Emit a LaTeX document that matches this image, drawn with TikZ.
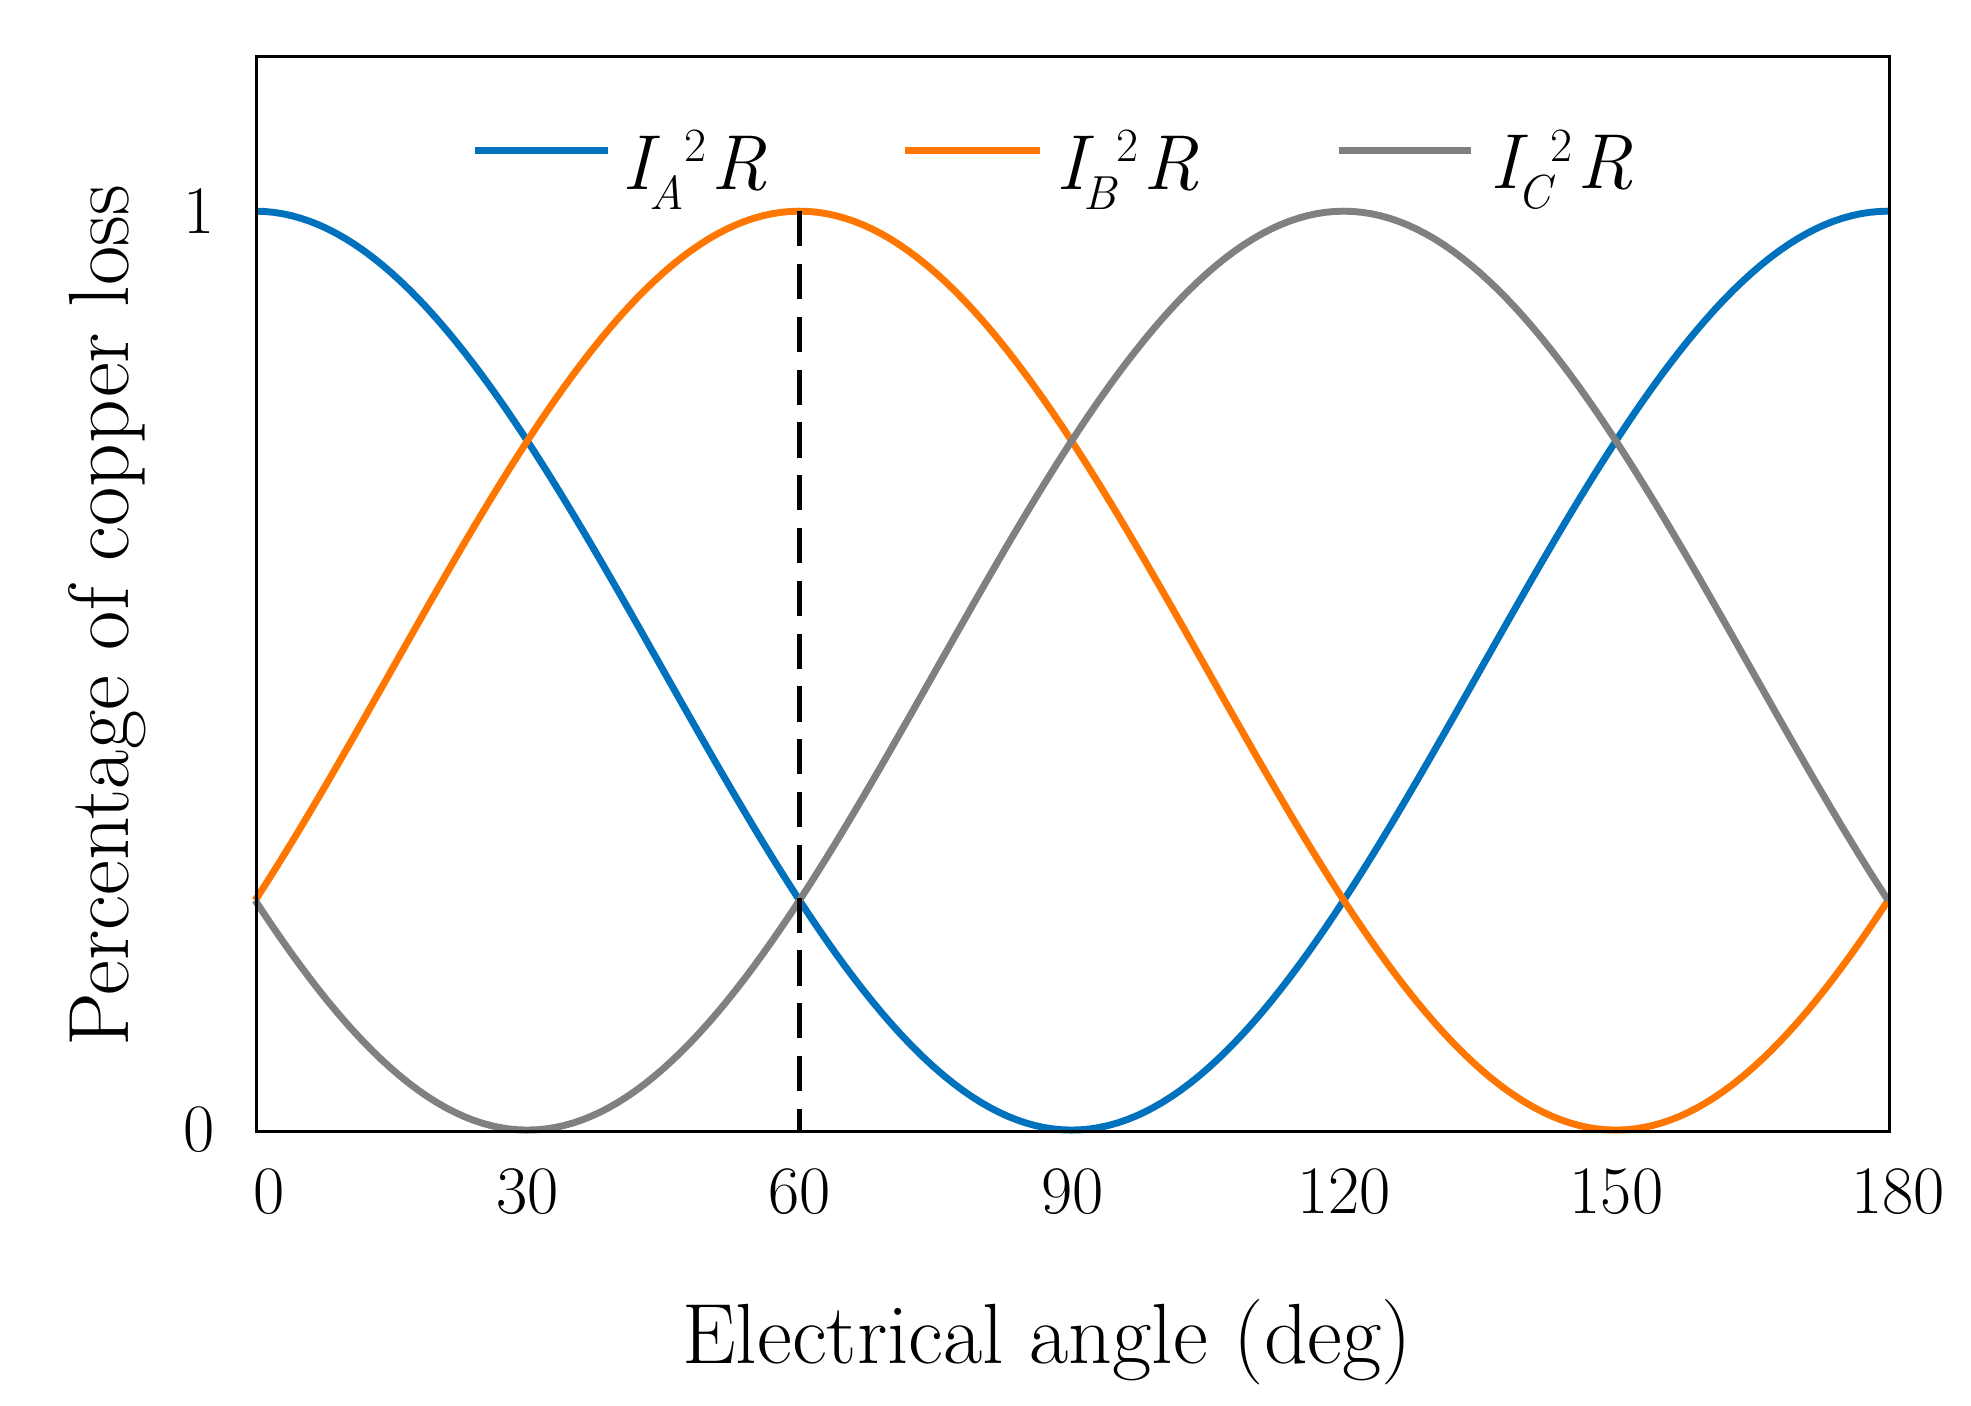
\documentclass[tikz,border=0pt]{standalone}
\begin{document}
\begin{tikzpicture}[x=1pt,y=-1pt,
  curve/.style={line width=5.5pt},
  lbl/.style={font=\fontsize{54}{60}\selectfont},
  big/.style={font=\fontsize{68}{76}\selectfont},
  leg/.style={font=\fontsize{62}{70}\selectfont\itshape, anchor=west}]
\definecolor{cA}{RGB}{0,114,189}
\definecolor{cB}{RGB}{255,119,0}
\definecolor{cC}{RGB}{128,128,128}
\newcommand{\legtxt}[1]{I\kern-2pt\raisebox{-16pt}{\fontsize{38}{40}\selectfont #1}\raisebox{22pt}{\fontsize{38}{40}\selectfont\upshape 2}\kern4pt R}
\useasboundingbox (0,0) rectangle (1568,1118);
\draw[curve,cA] plot[domain=0:180,samples=181] ({203+\x*7.2167},{899-731*cos(\x)*cos(\x)});
\draw[curve,cB] plot[domain=0:180,samples=181] ({203+\x*7.2167},{899-731*cos(\x-60)*cos(\x-60)});
\draw[curve,cC] plot[domain=0:180,samples=181] ({203+\x*7.2167},{899-731*cos(\x-120)*cos(\x-120)});
\coordinate (dtop) at (636,168); \coordinate (dbot) at (636,899);
\draw[line width=4pt,dash pattern=on 28pt off 14pt] (dtop) -- (dbot);
\node[draw,line width=2.5pt,minimum width=1299pt,minimum height=855pt,inner sep=0,anchor=north west] (box) at (203,44) {};
% legend
\coordinate (la1) at (378,120); \coordinate (la2) at (484,120);
\draw[curve,cA] (la1) -- (la2);
\node[leg] (ta) at (492,135) {\legtxt{A}};
\coordinate (lb1) at (720,120); \coordinate (lb2) at (827,120);
\draw[curve,cB] (lb1) -- (lb2);
\node[leg] (tb) at (837,135) {\legtxt{B}};
\coordinate (lc1) at (1065,120); \coordinate (lc2) at (1170,120);
\draw[curve,cC] (lc1) -- (lc2);
\node[leg] (tc) at (1182,135) {\legtxt{C}};
% ticks
\node[lbl] (y1) at (158,168) {1};
\node[lbl] (y0) at (158,899) {0};
\foreach \v/\xx in {0/214,30/420,60/636,90/853,120/1069,150/1286,180/1510}
  \node[lbl] (x\v) at (\xx,948) {\v};
\node[big] (xl) at (833,1068) {Electrical angle (deg)};
\node[big,rotate=90] (yl) at (85,490) {Percentage of copper loss};
\end{tikzpicture}
\end{document}
